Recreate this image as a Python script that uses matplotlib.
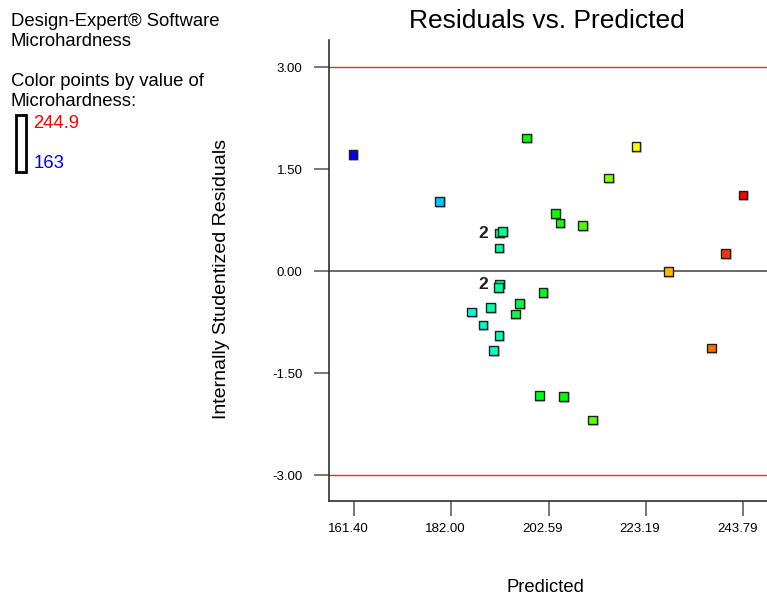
import matplotlib
matplotlib.use("Agg")
import matplotlib.pyplot as plt
from matplotlib.colors import LinearSegmentedColormap, Normalize
from matplotlib.patches import Rectangle
from matplotlib.transforms import ScaledTranslation
import numpy as np

plt.rcParams['font.family'] = ['Liberation Sans', 'DejaVu Sans']

# Data
predicted = [161.2, 179.5, 197.9, 204.0, 205.0, 192.2, 192.9, 192.1, 192.2, 192.0,
             201.4, 209.8, 196.5, 195.5, 190.3, 186.3, 188.7, 192.1, 191.0, 200.6,
             205.7, 211.9, 221.1, 215.3, 243.7, 240.1, 227.9, 237.0]
residuals = [1.72, 1.03, 1.96, 0.85, 0.71, 0.56, 0.58, 0.34, -0.19, -0.245,
             -0.31, 0.67, -0.48, -0.63, -0.53, -0.60, -0.79, -0.95, -1.17, -1.83,
             -1.84, -2.19, 1.83, 1.37, 1.12, 0.26, 0.0, -1.13]
observed = [163, 179, 203, 204, 205, 192, 192.5, 192, 192, 191.5,
            202, 210, 199, 198, 190, 186, 188, 190, 188.5, 202,
            203, 211, 224, 215, 244.9, 240.5, 230, 236]
count_labels = [(192.2, 0.56, "2"), (192.2, -0.19, "2")]
xticks = [161.40, 182.00, 202.59, 223.19, 243.79]
yticks = [3.00, 1.50, 0.00, -1.50, -3.00]
limit = 3.0
cmin, cmax = 163, 244.9

W, H = 767, 603
fig = plt.figure(figsize=(W/100, H/100), dpi=100)
ax = fig.add_axes([329/W, 1 - 501/H, 1 - 329/W, (501 - 40)/H])

cmap = LinearSegmentedColormap.from_list("de", ["#0000ff", "#00ffff", "#00ff00", "#ffff00", "#ff0000"])
norm = Normalize(cmin, cmax)

ax.axhline(limit, color="#ff2020", lw=1.0, zorder=1)
ax.axhline(-limit, color="#ff2020", lw=1.0, zorder=1)
ax.axhline(0, color="#505050", lw=1.2, zorder=1)

# shadow
ax.scatter(np.array(predicted) + 0.25, np.array(residuals) - 0.02, marker="s", s=52,
           color="#c8c8c8", edgecolors="none", zorder=2)
ax.scatter(predicted, residuals, marker="s", s=40, c=[cmap(norm(v)) for v in observed],
           edgecolors="#202020", linewidths=1.0, zorder=3)

for x, y, t in count_labels:
    ax.text(x - 2.4, y, t, ha="right", va="center", fontsize=12.5, fontweight="bold", color="#202020")

ax.set_xlim(156.11, 248.8)
ax.set_ylim(-3.38, 3.40)
ax.set_xticks(xticks)
ax.set_xticklabels([f"{v:.2f}" for v in xticks])
ax.set_yticks(yticks)
ax.set_yticklabels([f"{v:.2f}" for v in yticks])
ax.tick_params(axis="both", direction="out", length=11, width=1.2, color="#606060",
               labelsize=9.5)
ax.tick_params(axis="y", pad=8)
ax.tick_params(axis="x", pad=5)
shift = ScaledTranslation(-6/100, 0, fig.dpi_scale_trans)
for lab in ax.get_xticklabels():
    lab.set_transform(lab.get_transform() + shift)
for s in ["top", "right"]:
    ax.spines[s].set_visible(False)
for s in ["left", "bottom"]:
    ax.spines[s].set_color("#303030")
    ax.spines[s].set_linewidth(1.2)

fig.text(547/W, 1 - 21/H, "Residuals vs. Predicted", ha="center", va="center", fontsize=19)
fig.text(545/W, 1 - 587/H, "Predicted", ha="center", va="center", fontsize=13.3)
fig.text(222/W, 1 - 279/H, "Internally Studentized Residuals", ha="center", va="center",
         rotation=90, fontsize=14)

fs = 13.3
fig.text(11/W, 1 - 21/H, "Design-Expert® Software", ha="left", va="center", fontsize=fs)
fig.text(11/W, 1 - 41/H, "Microhardness", ha="left", va="center", fontsize=fs)
fig.text(11/W, 1 - 82/H, "Color points by value of", ha="left", va="center", fontsize=fs)
fig.text(11/W, 1 - 101/H, "Microhardness:", ha="left", va="center", fontsize=fs)
fig.text(33/W, 1 - 124/H, f"{cmax:.1f}", ha="left", va="center", fontsize=fs, color="#ff0000")
fig.text(34/W, 1 - 164/H, f"{cmin:.0f}", ha="left", va="center", fontsize=fs, color="#0000ff")
fig.add_artist(Rectangle((15.5/W, 1 - 172/H), 10/W, 57/H, transform=fig.transFigure,
                         fill=False, edgecolor="black", lw=2))

fig.savefig("out.png", dpi=100)
